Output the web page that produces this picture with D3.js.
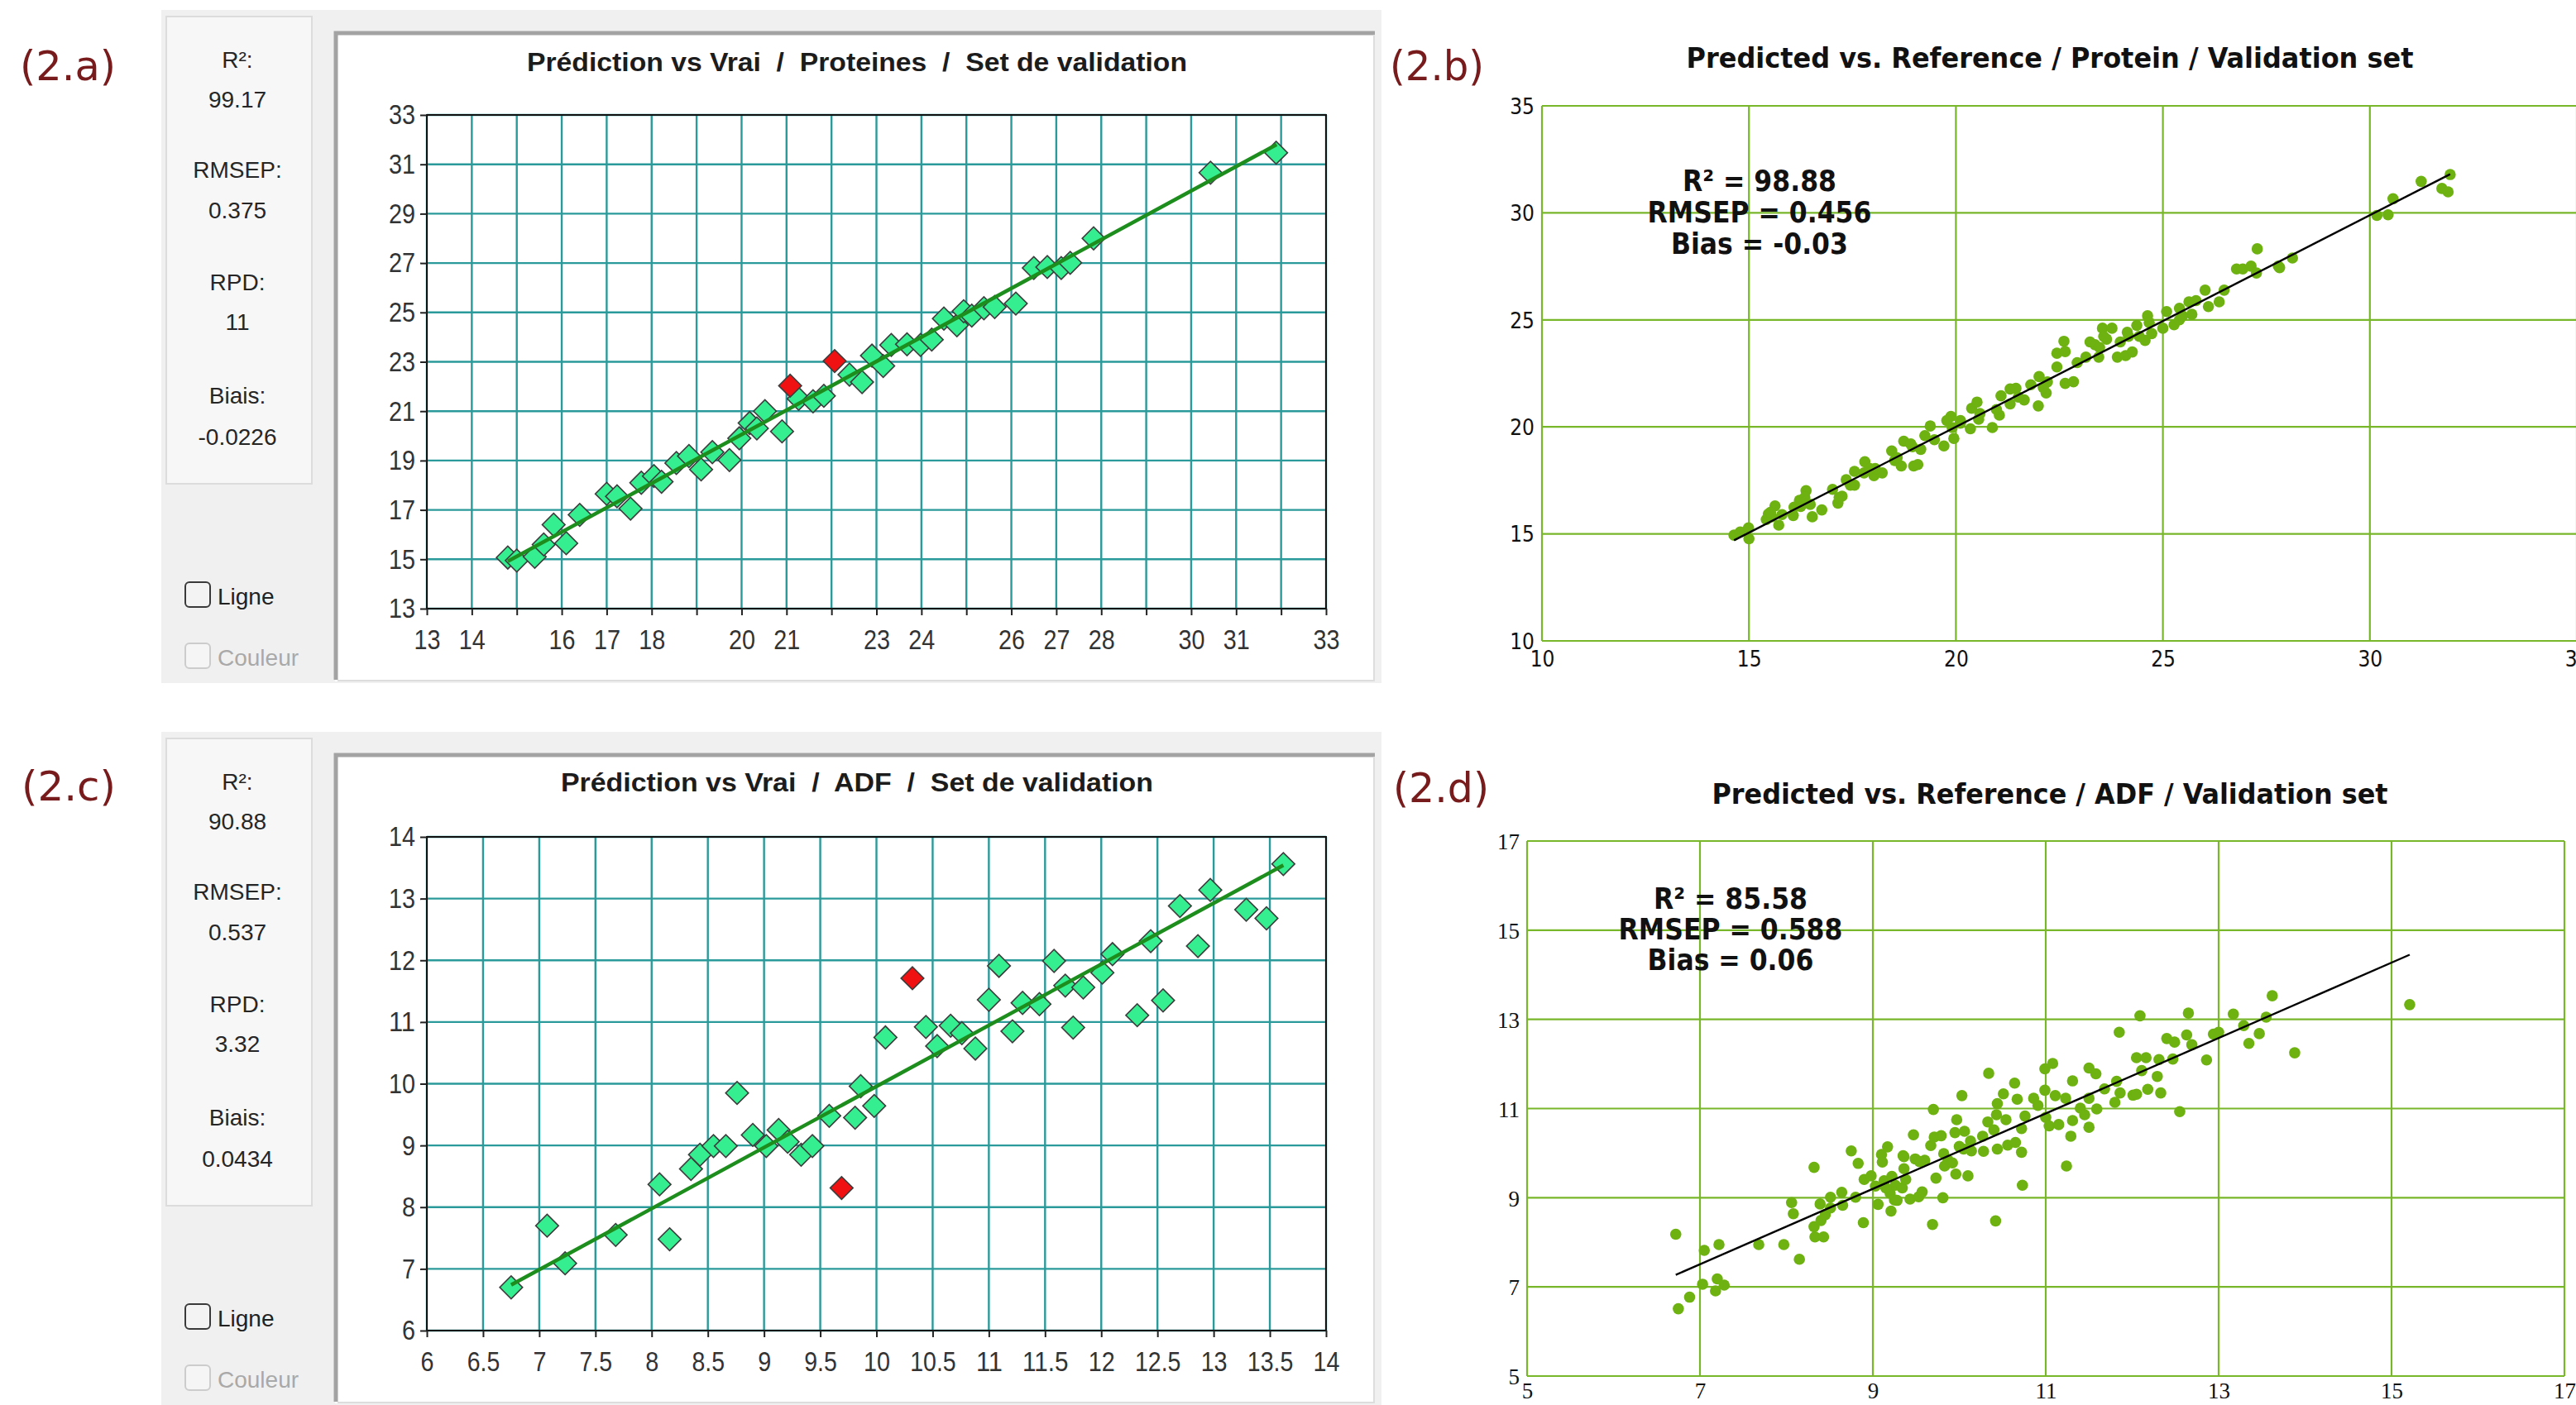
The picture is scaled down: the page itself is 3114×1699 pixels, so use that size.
<!DOCTYPE html>
<html>
<head>
<meta charset="utf-8">
<script src="https://cdn.jsdelivr.net/npm/d3@7"></script>
<style>
  body { margin: 0; background: #fff; }
</style>
</head>
<body>
<script>
// ---- data ----

// (2.a) Proteines, validation set (reference, predicted)
const protA_ref  = [14.8, 15.0, 15.4, 15.6, 15.82, 16.1, 16.4, 17.0, 17.23, 17.53, 17.77, 18.05, 18.22, 18.55, 18.83, 19.1, 19.35, 19.73, 19.95, 20.18, 20.34, 20.52, 20.9, 21.27, 21.59, 21.83, 22.4, 22.68, 22.9, 23.15, 23.33, 23.68, 23.98, 24.23, 24.5, 24.79, 24.94, 25.12, 25.39, 25.63, 26.1, 26.5, 26.8, 27.11, 27.31, 27.83, 30.43, 31.89];
const protA_pred = [15.07, 14.95, 15.1, 15.6, 16.4, 15.65, 16.8, 17.65, 17.55, 17.05, 18.1, 18.37, 18.14, 18.9, 19.18, 18.64, 19.34, 19.02, 19.9, 20.52, 20.3, 21.0, 20.18, 21.5, 21.4, 21.62, 22.48, 22.18, 23.25, 22.83, 23.68, 23.71, 23.68, 23.9, 24.75, 24.48, 25.05, 24.87, 25.17, 25.22, 25.36, 26.8, 26.84, 26.8, 27.01, 28.0, 30.66, 31.47];
const protA_outRef  = [21.08, 22.07];
const protA_outPred = [22.03, 23.03];
const protA_fitX = [14.8, 31.9];
const protA_fitY = [14.92, 31.8];
const statsA = ["R²:", "99.17", "RMSEP:", "0.375", "RPD:", "11", "Biais:", "-0.0226"];

// (2.c) ADF, validation set
const adfC_ref  = [6.75, 7.07, 7.23, 7.68, 8.07, 8.16, 8.35, 8.43, 8.55, 8.66, 8.76, 8.9, 9.02, 9.13, 9.21, 9.33, 9.43, 9.58, 9.81, 9.86, 9.98, 10.08, 10.44, 10.54, 10.66, 10.76, 10.88, 11.0, 11.09, 11.21, 11.3, 11.45, 11.58, 11.68, 11.75, 11.84, 12.01, 12.1, 12.32, 12.44, 12.55, 12.7, 12.86, 12.97, 13.29, 13.47, 13.62];
const adfC_pred = [6.7, 7.7, 7.09, 7.55, 8.37, 7.48, 8.62, 8.85, 8.99, 8.99, 9.85, 9.17, 8.99, 9.25, 9.06, 8.85, 8.99, 9.48, 9.45, 9.96, 9.64, 10.75, 10.92, 10.61, 10.94, 10.82, 10.57, 11.36, 11.91, 10.85, 11.31, 11.29, 11.99, 11.59, 10.91, 11.56, 11.8, 12.1, 11.11, 12.31, 11.35, 12.88, 12.23, 13.14, 12.82, 12.68, 13.56];
const adfC_outRef  = [9.69, 10.32];
const adfC_outPred = [8.31, 11.71];
const adfC_fitX = [6.75, 13.62];
const adfC_fitY = [6.74, 13.54];
const statsC = ["R²:", "90.88", "RMSEP:", "0.537", "RPD:", "3.32", "Biais:", "0.0434"];

// (2.b) Protein, validation set
const protB_ref  = [14.64, 14.79, 14.99, 15.0, 15.42, 15.47, 15.63, 15.72, 15.55, 15.8, 16.07, 16.09, 16.22, 16.38, 16.48, 16.53, 16.76, 17.02, 17.15, 17.25, 17.35, 17.55, 17.55, 17.8, 17.78, 18.02, 18.22, 18.05, 18.45, 18.52, 18.68, 18.74, 18.95, 18.98, 19.08, 19.15, 19.25, 19.38, 19.48, 19.71, 19.88, 19.95, 19.91, 20.11, 20.35, 20.38, 20.51, 20.55, 20.88, 21.05, 21.09, 21.31, 21.45, 21.65, 21.81, 21.99, 22.01, 22.18, 22.21, 22.44, 22.44, 22.61, 22.64,
  15.52, 16.25, 16.35, 17.18, 17.45, 17.92, 18.58, 18.91, 19.78, 20.11, 20.58, 20.98, 21.31, 21.51, 22.11,
  22.64, 22.84, 22.93, 23.14, 23.36, 23.45, 23.54, 23.77, 23.64, 23.47, 23.9, 24.1, 24.26, 23.97, 24.14, 24.37, 24.57, 24.63, 24.73, 25.0, 25.09, 25.27, 25.4, 25.4, 25.63, 25.7, 25.8, 26.02, 26.1, 26.36, 26.48, 26.78, 26.93, 27.13, 27.26, 27.28,
  23.24, 23.57, 24.17, 24.43, 24.67, 25.47,
  27.79, 27.82, 28.13, 30.17, 30.44, 30.56, 31.24, 31.74, 31.89, 31.94];
const protB_pred = [14.94, 15.09, 15.28, 14.77, 15.67, 15.93, 16.31, 15.41, 15.8, 15.9, 15.86, 16.25, 16.57, 17.02, 16.38, 15.8, 16.12, 17.08, 16.44, 16.76, 17.53, 17.28, 17.92, 18.37, 17.85, 17.72, 17.85, 18.05, 18.88, 18.43, 18.17, 19.33, 19.07, 18.17, 18.24, 18.95, 19.59, 20.04, 19.4, 19.11, 20.49, 19.46, 19.97, 20.3, 19.91, 20.87, 21.16, 20.36, 19.97, 20.55, 21.45, 21.07, 21.8, 21.26, 21.97, 20.98, 22.35, 21.58, 22.1, 22.8, 23.44, 24.0, 22.03,
  16.01, 16.28, 16.7, 16.7, 17.28, 18.05, 18.56, 19.2, 20.3, 20.17, 20.62, 20.81, 21.77, 21.39, 21.84,
  23.52, 22.11, 23.0, 23.26, 23.84, 23.26, 24.61, 24.61, 24.1, 23.71, 23.26, 23.33, 23.5, 23.97, 24.42, 24.74, 24.04, 25.19, 24.36, 24.61, 25.39, 24.77, 25.54, 25.0, 25.84, 25.26, 25.9, 26.39, 25.62, 25.84, 26.39, 27.38, 27.38, 27.51, 27.19, 28.32,
  23.97, 24.23, 24.23, 24.23, 24.87, 25.19,
  27.51, 27.44, 27.89, 29.88, 29.91, 30.66, 31.47, 31.14, 30.98, 31.79];
const protB_fitX = [14.64, 31.94];
const protB_fitY = [14.7, 31.81];
const statsB = ["R² = 98.88", "RMSEP = 0.456", "Bias = -0.03"];

// (2.d) ADF, validation set
const adfD_ref  = [6.72, 6.75, 6.88, 7.03, 7.05, 7.2, 7.18, 7.28, 7.22, 7.68, 7.97, 8.15, 8.06, 8.08, 8.32, 8.32, 8.33, 8.43, 8.39, 8.4, 8.45, 8.51, 8.51, 8.64, 8.65, 8.75, 8.83, 8.8, 8.89, 8.9, 8.98, 9.06, 9.03, 9.1, 9.17, 9.11, 9.13, 9.22, 9.2, 9.25, 9.21, 9.35,
  9.26, 9.15, 9.34, 9.28, 9.38, 9.43, 9.53, 9.57,
  9.36, 9.36, 9.47, 9.49, 9.6, 9.54, 9.7, 9.67, 9.71, 9.79, 9.73, 9.69, 9.81, 9.82, 9.87, 9.83, 9.92, 9.96, 9.95, 9.97, 10.03, 10.0, 10.06, 10.05, 10.1, 10.13, 10.14, 10.28, 10.27, 10.33, 10.34, 10.4, 10.43, 10.44, 10.44, 10.42, 10.51, 10.56, 10.54, 10.64, 10.65, 10.67, 10.72, 10.73, 10.72, 10.76, 10.86, 10.91, 10.99, 11.08, 10.99, 11.0, 11.04, 11.11, 11.15, 11.23, 11.29, 11.31, 11.31, 11.24, 11.4, 11.45, 11.5, 11.5, 11.5,
  11.59, 11.58, 11.68, 11.8, 11.82, 11.86, 11.85, 12.01, 12.05, 12.09, 12.05, 12.16, 12.11, 12.18, 12.29, 12.31, 12.33, 12.47, 12.4, 12.49, 12.55, 12.63, 12.65, 12.69, 12.86, 12.94, 13.0, 13.17, 13.29, 13.35, 13.47, 13.55, 13.62, 13.88, 15.21];
const adfD_pred = [8.18, 6.51, 6.77, 7.06, 7.82, 7.18, 6.91, 7.04, 7.95, 7.95, 7.95, 7.62, 8.89, 8.64, 9.68, 8.35, 8.12, 8.12, 8.86, 8.49, 8.62, 9.01, 8.77, 9.12, 8.83, 10.05, 9.77, 9.01, 8.44, 9.41, 9.49, 8.85, 9.26, 9.97, 10.14, 9.8, 9.38, 9.48, 9.1, 8.95, 8.7, 9.94,
  9.28, 9.22, 9.22, 8.94, 9.41, 8.97, 9.02, 9.13,
  9.92, 9.65, 10.41, 9.87, 9.84, 9.81, 10.98, 10.17, 10.36, 10.39, 9.44, 8.4, 9.0, 9.99, 9.84, 9.71, 9.78, 9.53, 10.46, 10.75, 11.29, 10.15, 10.49, 10.09, 9.49, 10.27, 10.05, 10.04, 10.38, 10.7, 11.79, 10.52, 10.86, 11.11, 10.09, 8.48, 11.33, 10.18, 10.75, 11.57, 10.24, 11.21, 10.02, 9.28, 10.55, 10.83, 11.23, 11.07, 11.89, 12.01, 11.41, 10.8, 10.61, 11.29, 10.64, 11.23, 10.38, 11.62, 10.73, 9.71, 11.01, 10.86, 10.58, 11.91, 11.23,
  10.99, 11.78, 11.44, 11.14, 11.61, 11.35, 12.71, 11.3, 11.32, 13.08, 12.14, 12.14, 11.85, 11.43, 11.72, 12.1, 11.35, 12.11, 12.57, 12.49, 10.93, 12.65, 13.14, 12.43, 12.09, 12.67, 12.71, 13.12, 12.86, 12.46, 12.68, 13.05, 13.53, 12.25, 13.33];
const adfD_fitX = [6.72, 15.21];
const adfD_fitY = [7.27, 14.45];
const statsD = ["R² = 85.58", "RMSEP = 0.588", "Bias = 0.06"];

// ticks
const ticksA_x = d3.range(13, 33.5, 1);
const labelsA_x = [13, 14, 16, 17, 18, 20, 21, 23, 24, 26, 27, 28, 30, 31, 33];
const ticksA_y = d3.range(13, 33.5, 2);
const ticksC_x = d3.range(6, 14.25, 0.5);
const labelsC_x = ticksC_x;
const ticksC_y = d3.range(6, 14.5, 1);
const ticksB = [10, 15, 20, 25, 30, 35];
const ticksD = [5, 7, 9, 11, 13, 15, 17];

// ---- drawing ----
const W = 3114, H = 1699;
const svg = d3.select("body").append("svg")
  .attr("width", W).attr("height", H)
  .style("display", "block");

const labelColor = "#781b1c";
const appFont = "'Liberation Sans', Arial, sans-serif";
const narrowFont = "'Liberation Sans Narrow', 'Liberation Sans', Arial, sans-serif";
const webFont = "'DejaVu Sans Condensed', 'DejaVu Sans', sans-serif";

// width a narrow 34px font would give, used to squeeze tick labels
const narrowLen = s => [...s].reduce((a, ch) => a + (ch === "." ? 7.5 : ch === "-" ? 10 : 16), 0);

function panelLabel(txt, x, y, font, len) {
  const t = svg.append("text")
    .attr("x", x).attr("y", y)
    .attr("font-family", font)
    .attr("font-size", 49)
    .attr("fill", labelColor)
    .text(txt);
  if (len) t.attr("textLength", len).attr("lengthAdjust", "spacingAndGlyphs");
}

function appPanel(c) {
  const o = c.off;
  const g = svg.append("g");

  // window background and stats box
  g.append("rect").attr("x", 195).attr("y", 12 + o).attr("width", 1475).attr("height", 814)
    .attr("fill", "#f0f0f0");
  g.append("rect").attr("x", 201).attr("y", 20 + o).attr("width", 176).attr("height", 565)
    .attr("fill", "#f7f7f7").attr("stroke", "#dcdcdc").attr("stroke-width", 2);

  const statY = [82, 130, 215, 264, 351, 399, 488, 538];
  g.selectAll(".stat").data(c.stats).enter().append("text")
    .attr("x", 287).attr("y", (d, i) => statY[i] + o)
    .attr("text-anchor", "middle")
    .attr("font-family", appFont).attr("font-size", 28)
    .attr("fill", "#262626")
    .text(d => d);

  // check boxes
  g.append("rect").attr("x", 224).attr("y", 704 + o).attr("width", 30).attr("height", 30).attr("rx", 5)
    .attr("fill", "#f3f3f3").attr("stroke", "#3a3a3a").attr("stroke-width", 2);
  g.append("text").attr("x", 263).attr("y", 731 + o)
    .attr("font-family", appFont).attr("font-size", 28).attr("fill", "#222").text("Ligne");
  g.append("rect").attr("x", 224).attr("y", 778 + o).attr("width", 30).attr("height", 30).attr("rx", 5)
    .attr("fill", "#f5f5f5").attr("stroke", "#cccccc").attr("stroke-width", 2);
  g.append("text").attr("x", 263).attr("y", 805 + o)
    .attr("font-family", appFont).attr("font-size", 28).attr("fill", "#a9a9a9").text("Couleur");

  // chart frame (sunken look)
  g.append("rect").attr("x", 405).attr("y", 38 + o).attr("width", 1257).attr("height", 786).attr("fill", "#fff");
  g.append("path").attr("d", `M406,${822 + o}V${40 + o}H1662`)
    .attr("fill", "none").attr("stroke", "#a3a3a3").attr("stroke-width", 5);
  g.append("path").attr("d", `M408,${823 + o}H1661V${42 + o}`)
    .attr("fill", "none").attr("stroke", "#dddddd").attr("stroke-width", 2);

  g.append("text")
    .attr("x", 1036).attr("y", c.titleY + o)
    .attr("text-anchor", "middle")
    .attr("font-family", narrowFont).attr("font-size", 32).attr("font-weight", "bold")
    .attr("fill", "#1c1c1c")
    .style("white-space", "pre")
    .attr("textLength", c.titleLen).attr("lengthAdjust", "spacingAndGlyphs")
    .text(c.title);

  const x = d3.scaleLinear().domain(c.xDomain).range([516, 1603]);
  const y = d3.scaleLinear().domain(c.yDomain).range([736 + o, 139 + o]);

  // grid
  g.append("g").selectAll("line").data(c.xTicks).enter().append("line")
    .attr("x1", d => x(d)).attr("x2", d => x(d))
    .attr("y1", y.range()[0]).attr("y2", y.range()[1])
    .attr("stroke", "#2a9a9a").attr("stroke-width", 2.4);
  g.append("g").selectAll("line").data(c.yTicks).enter().append("line")
    .attr("x1", 516).attr("x2", 1603)
    .attr("y1", d => y(d)).attr("y2", d => y(d))
    .attr("stroke", "#2a9a9a").attr("stroke-width", 2.4);
  g.append("rect").attr("x", 516).attr("y", y.range()[1])
    .attr("width", 1603 - 516).attr("height", y.range()[0] - y.range()[1])
    .attr("fill", "none").attr("stroke", "#111").attr("stroke-width", 2);

  // axes
  g.append("g")
    .attr("transform", `translate(0,${y.range()[0]})`)
    .call(d3.axisBottom(x).tickValues(c.xTicks).tickSize(8)
      .tickFormat(d => c.xLabels.includes(d) ? String(d) : ""))
    .call(a => a.select(".domain").remove())
    .call(a => a.selectAll("line").attr("stroke", "#222").attr("stroke-width", 2))
    .call(a => a.selectAll("text")
      .attr("y", 49).attr("dy", null)
      .attr("font-family", narrowFont).attr("font-size", 34).attr("fill", "#333")
      .each(function () {
        const s = this.textContent;
        if (s) d3.select(this).attr("textLength", narrowLen(s)).attr("lengthAdjust", "spacingAndGlyphs");
      }));
  g.append("g")
    .attr("transform", "translate(516,0)")
    .call(d3.axisLeft(y).tickValues(c.yTicks).tickSize(8).tickPadding(6).tickFormat(d => String(d)))
    .call(a => a.select(".domain").remove())
    .call(a => a.selectAll("line").attr("stroke", "#222").attr("stroke-width", 2))
    .call(a => a.selectAll("text")
      .attr("font-family", narrowFont).attr("font-size", 34).attr("fill", "#333")
      .each(function () {
        d3.select(this).attr("textLength", narrowLen(this.textContent)).attr("lengthAdjust", "spacingAndGlyphs");
      }));

  // points
  const diamond = d3.symbol(d3.symbolSquare, 380)();
  const pts = c.ref.map((v, i) => [v, c.pred[i], false])
    .concat(c.outRef.map((v, i) => [v, c.outPred[i], true]));
  g.append("g").selectAll("path").data(pts).enter().append("path")
    .attr("d", diamond)
    .attr("transform", d => `translate(${x(d[0])},${y(d[1])}) rotate(45)`)
    .attr("fill", d => d[2] ? "#f01212" : "#35ee90")
    .attr("stroke", "#3c3c3c").attr("stroke-width", 1.6);

  // regression line
  g.append("line")
    .attr("x1", x(c.fitX[0])).attr("y1", y(c.fitY[0]))
    .attr("x2", x(c.fitX[1])).attr("y2", y(c.fitY[1]))
    .attr("stroke", "#1d8d1d").attr("stroke-width", 4.5);
}

function webPanel(c) {
  const g = svg.append("g");
  const x = d3.scaleLinear().domain(c.domain).range(c.xRange);
  const y = d3.scaleLinear().domain(c.domain).range(c.yRange);
  const grid = "#78b62a";

  g.append("text")
    .attr("x", 2478).attr("y", c.titleY)
    .attr("text-anchor", "middle")
    .attr("font-family", webFont).attr("font-size", 34).attr("font-weight", "bold")
    .attr("fill", "#111")
    .attr("textLength", c.titleLen).attr("lengthAdjust", "spacingAndGlyphs")
    .text(c.title);

  g.append("g").selectAll("line").data(c.ticks).enter().append("line")
    .attr("x1", d => x(d)).attr("x2", d => x(d))
    .attr("y1", c.yRange[0]).attr("y2", c.yRange[1])
    .attr("stroke", grid).attr("stroke-width", 2.2);
  g.append("g").selectAll("line").data(c.ticks).enter().append("line")
    .attr("x1", c.xRange[0]).attr("x2", c.xRange[1])
    .attr("y1", d => y(d)).attr("y2", d => y(d))
    .attr("stroke", grid).attr("stroke-width", 2.2);

  g.append("g")
    .attr("transform", `translate(0,${c.yRange[0]})`)
    .call(d3.axisBottom(x).tickValues(c.ticks).tickSize(0).tickFormat(d => String(d)))
    .call(a => a.select(".domain").remove())
    .call(a => a.selectAll("text").attr("y", c.xLabelY).attr("dy", null)
      .attr("font-family", c.tickFont).attr("font-size", c.tickSize).attr("fill", "#111"));
  g.append("g")
    .attr("transform", `translate(${c.xRange[0]},0)`)
    .call(d3.axisLeft(y).tickValues(c.ticks).tickSize(0).tickPadding(9).tickFormat(d => String(d)))
    .call(a => a.select(".domain").remove())
    .call(a => a.selectAll("text").attr("dy", "0.36em")
      .attr("font-family", c.tickFont).attr("font-size", c.tickSize).attr("fill", "#111"));

  g.append("g").selectAll("circle").data(c.ref).enter().append("circle")
    .attr("cx", d => x(d))
    .attr("cy", (d, i) => y(c.pred[i]))
    .attr("r", 6.8)
    .attr("fill", "#6db210");

  g.append("line")
    .attr("x1", x(c.fitX[0])).attr("y1", y(c.fitY[0]))
    .attr("x2", x(c.fitX[1])).attr("y2", y(c.fitY[1]))
    .attr("stroke", "#000").attr("stroke-width", 2.4);

  g.selectAll(".st").data(c.stats).enter().append("text")
    .attr("x", c.statX).attr("y", (d, i) => c.statY[i])
    .attr("text-anchor", "middle")
    .attr("font-family", webFont).attr("font-size", 35).attr("font-weight", "bold")
    .attr("fill", "#111")
    .text(d => d);
}

appPanel({
  off: 0, title: "Prédiction vs Vrai  /  Proteines  /  Set de validation", titleY: 86, titleLen: 798,
  stats: statsA, xDomain: [13, 33], yDomain: [13, 33],
  xTicks: ticksA_x, xLabels: labelsA_x, yTicks: ticksA_y,
  ref: protA_ref, pred: protA_pred, outRef: protA_outRef, outPred: protA_outPred,
  fitX: protA_fitX, fitY: protA_fitY
});
appPanel({
  off: 873, title: "Prédiction vs Vrai  /  ADF  /  Set de validation", titleY: 84, titleLen: 716,
  stats: statsC, xDomain: [6, 14], yDomain: [6, 14],
  xTicks: ticksC_x, xLabels: labelsC_x, yTicks: ticksC_y,
  ref: adfC_ref, pred: adfC_pred, outRef: adfC_outRef, outPred: adfC_outPred,
  fitX: adfC_fitX, fitY: adfC_fitY
});

webPanel({
  title: "Predicted vs. Reference / Protein / Validation set", titleY: 82, titleLen: 879,
  domain: [10, 35], xRange: [1864, 3115], yRange: [775, 128], ticks: ticksB,
  tickFont: webFont, tickSize: 26, xLabelY: 31,
  ref: protB_ref, pred: protB_pred, fitX: protB_fitX, fitY: protB_fitY,
  stats: statsB, statX: 2127, statY: [231, 269, 307]
});
webPanel({
  title: "Predicted vs. Reference / ADF / Validation set", titleY: 972, titleLen: 817,
  domain: [5, 17], xRange: [1846, 3100], yRange: [1664, 1017], ticks: ticksD,
  tickFont: "'Liberation Serif', 'DejaVu Serif', serif", tickSize: 27, xLabelY: 27,
  ref: adfD_ref, pred: adfD_pred, fitX: adfD_fitX, fitY: adfD_fitY,
  stats: statsD, statX: 2092, statY: [1099, 1136, 1173]
});

panelLabel("(2.a)", 24, 97, "'DejaVu Sans', Verdana, sans-serif", 116);
panelLabel("(2.c)", 26, 968, "'DejaVu Sans', Verdana, sans-serif", 114);
panelLabel("(2.b)", 1680, 97, webFont, 114);
panelLabel("(2.d)", 1684, 970, webFont, 116);
</script>
</body>
</html>
